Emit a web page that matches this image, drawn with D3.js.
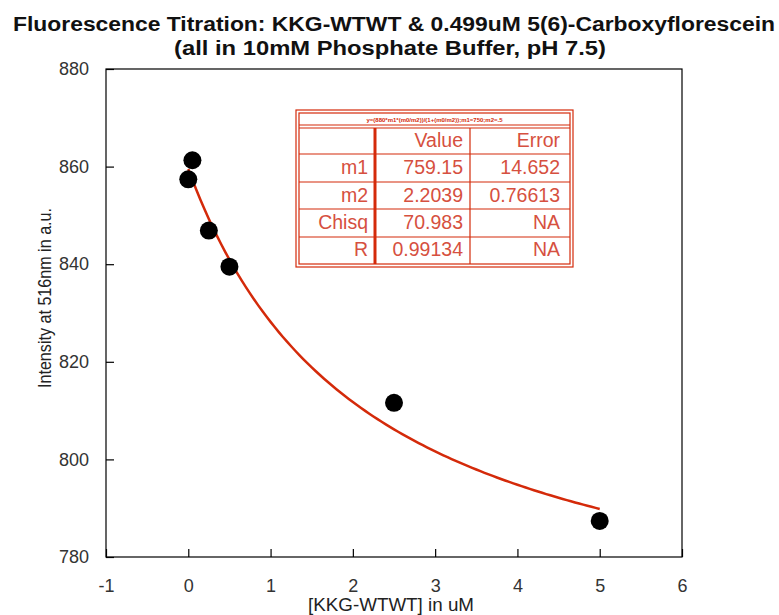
<!DOCTYPE html>
<html>
<head>
<meta charset="utf-8">
<script src="https://cdn.jsdelivr.net/npm/d3@7"></script>
<style>
  body { margin: 0; background: #fff; }
  svg { font-family: "Liberation Sans", Arial, sans-serif; }
</style>
</head>
<body>
<div id="chart"></div>
<script>
// measured points
var concX = [0, 0.05, 0.25, 0.5, 2.5, 5];
var intensityY = [857.4, 861.3, 846.9, 839.5, 811.6, 787.4];

// fit parameters (shown in the table)
var fitY0 = 859.5;
var fitM1 = 759.15;
var fitM2 = 2.2039;
var fitRange = [0, 5];

var xTicks = [-1, 0, 1, 2, 3, 4, 5, 6];
var yTicks = [780, 800, 820, 840, 860, 880];

var tableFormula = "y=(880*m1*(m0/m2))/(1+(m0/m2));m1=750;m2=.5";
var tableHeader = ["", "Value", "Error"];
var tableRows = [
    ["m1", "759.15", "14.652"],
    ["m2", "2.2039", "0.76613"],
    ["Chisq", "70.983", "NA"],
    ["R", "0.99134", "NA"]
];

var width = 779, height = 615;
var margin = {left: 106, right: 97, top: 69, bottom: 58};

var svg = d3.select("#chart").append("svg")
    .attr("width", width)
    .attr("height", height);

var x = d3.scaleLinear().domain([-1, 6]).range([margin.left, width - margin.right]);
var y = d3.scaleLinear().domain([780, 880]).range([height - margin.bottom, margin.top]);

//title
svg.append("text")
    .attr("x", 394).attr("y", 31)
    .attr("text-anchor", "middle")
    .attr("font-size", "20px").attr("font-weight", "bold")
    .attr("fill", "#111")
    .attr("textLength", 762).attr("lengthAdjust", "spacingAndGlyphs")
    .text("Fluorescence Titration: KKG-WTWT & 0.499uM 5(6)-Carboxyflorescein");
svg.append("text")
    .attr("x", 390).attr("y", 55)
    .attr("text-anchor", "middle")
    .attr("font-size", "20px").attr("font-weight", "bold")
    .attr("fill", "#111")
    .attr("textLength", 432).attr("lengthAdjust", "spacingAndGlyphs")
    .text("(all in 10mM Phosphate Buffer, pH 7.5)");

//frame
svg.append("rect")
    .attr("x", x(-1)).attr("y", y(880))
    .attr("width", x(6) - x(-1)).attr("height", y(780) - y(880))
    .attr("fill", "none").attr("stroke", "#000").attr("stroke-width", 1.2);

//axes with inward ticks
var xAxis = svg.append("g")
    .attr("transform", "translate(0," + y(780) + ")")
    .call(d3.axisBottom(x).tickValues(xTicks).tickFormat(function (d) { return String(d); })
        .tickSizeInner(-8).tickSizeOuter(0).tickPadding(22));
var yAxis = svg.append("g")
    .attr("transform", "translate(" + x(-1) + ",0)")
    .call(d3.axisLeft(y).tickValues(yTicks).tickFormat(function (d) { return String(d); })
        .tickSizeInner(-8).tickSizeOuter(0).tickPadding(17));

[xAxis, yAxis].forEach(function (ax) {
    ax.select(".domain").remove();
    ax.selectAll("line").attr("stroke", "#000").attr("stroke-width", 1.2);
    ax.selectAll("text")
        .attr("font-size", "18px")
        .attr("fill", "#333")
        .attr("font-family", "Liberation Sans, Arial, sans-serif");
});

svg.append("text")
    .attr("x", 391).attr("y", 611)
    .attr("text-anchor", "middle")
    .attr("font-size", "18px").attr("fill", "#222")
    .attr("textLength", 166).attr("lengthAdjust", "spacingAndGlyphs")
    .text("[KKG-WTWT] in uM");

svg.append("text")
    .attr("transform", "translate(51,298) rotate(-90)")
    .attr("text-anchor", "middle")
    .attr("font-size", "18px").attr("fill", "#222")
    .attr("textLength", 180).attr("lengthAdjust", "spacingAndGlyphs")
    .text("Intensity at 516nm in a.u.");

//fit curve
var fitPts = d3.range(fitRange[0], fitRange[1] + 0.001, 0.05).map(function (c) {
    var r = c / fitM2;
    return [c, (fitY0 + fitM1 * r) / (1 + r)];
});
svg.append("path")
    .datum(fitPts)
    .attr("d", d3.line().x(function (d) { return x(d[0]); }).y(function (d) { return y(d[1]); }))
    .attr("fill", "none")
    .attr("stroke", "#d42a0a")
    .attr("stroke-width", 2.5);

//points
svg.selectAll("circle.pt")
    .data(concX)
    .enter().append("circle")
    .attr("class", "pt")
    .attr("cx", function (d) { return x(d); })
    .attr("cy", function (d, i) { return y(intensityY[i]); })
    .attr("r", 9)
    .attr("fill", "#000");

//results table
var red = "#d42a0a";
var tW = 277, tH = 157;
var tbl = svg.append("g").attr("transform", "translate(296,110)");
var colX = [0, 79, 174, tW];

tbl.append("rect").attr("x", 0).attr("y", 0).attr("width", tW).attr("height", tH)
    .attr("fill", "#fff").attr("stroke", red).attr("stroke-width", 1.2);
tbl.append("rect").attr("x", 3).attr("y", 3).attr("width", tW - 6).attr("height", tH - 6)
    .attr("fill", "none").attr("stroke", red).attr("stroke-width", 1.2);
tbl.append("line").attr("x1", 3).attr("x2", tW - 3).attr("y1", 15).attr("y2", 15)
    .attr("stroke", red).attr("stroke-width", 1.2);
tbl.append("line").attr("x1", 3).attr("x2", tW - 3).attr("y1", 18).attr("y2", 18)
    .attr("stroke", red).attr("stroke-width", 1.2);
tbl.append("text").attr("x", tW / 2).attr("y", 12).attr("text-anchor", "middle")
    .attr("font-size", "6px").attr("font-weight", "bold").attr("fill", red).text(tableFormula);

[44, 72, 99, 127].forEach(function (ry) {
    tbl.append("line").attr("x1", 3).attr("x2", tW - 3).attr("y1", ry).attr("y2", ry)
        .attr("stroke", red).attr("stroke-width", 1.2);
});
tbl.append("line").attr("x1", colX[1]).attr("x2", colX[1]).attr("y1", 18).attr("y2", tH - 3)
    .attr("stroke", red).attr("stroke-width", 3);
tbl.append("line").attr("x1", colX[2]).attr("x2", colX[2]).attr("y1", 18).attr("y2", tH - 3)
    .attr("stroke", red).attr("stroke-width", 1.2);

var allRows = [tableHeader].concat(tableRows);
var rowBase = [37, 64, 92, 119, 146];
allRows.forEach(function (row, i) {
    row.forEach(function (cell, j) {
        tbl.append("text")
            .attr("x", colX[j + 1] - (j === 2 ? 13 : 7))
            .attr("y", rowBase[i])
            .attr("text-anchor", "end")
            .attr("font-size", "19.5px")
            .attr("fill", "#d65040")
            .text(cell);
    });
});
</script>
</body>
</html>
